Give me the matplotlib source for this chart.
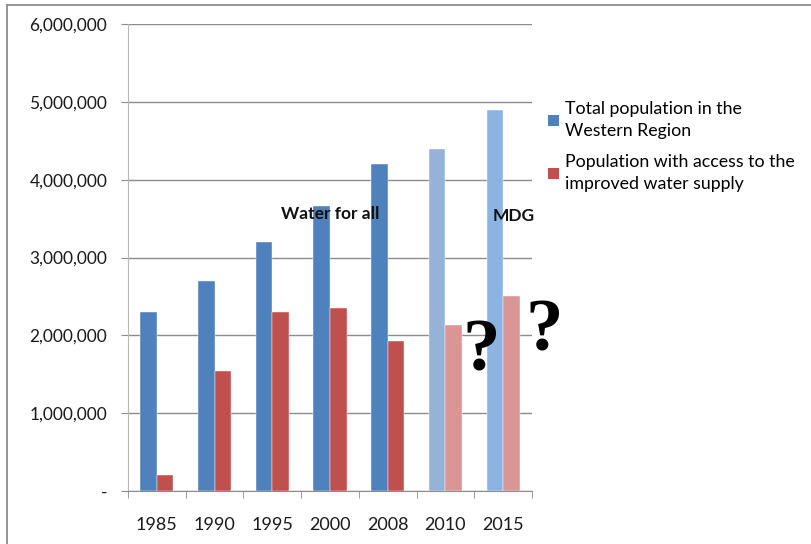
import matplotlib
matplotlib.use("Agg")
import matplotlib.pyplot as plt
from matplotlib.lines import Line2D
from matplotlib.patches import Patch
from matplotlib.ticker import FuncFormatter, FixedLocator

plt.rcParams['font.family'] = ['Lato', 'DejaVu Sans']

years = ["1985", "1990", "1995", "2000", "2008", "2010", "2015"]
total_population = [2300000, 2700000, 3200000, 3660000, 4200000, 4390000, 4900000]
water_access = [200000, 1540000, 2300000, 2350000, 1930000, 2130000, 2500000]

total_label = "Total population in the\nWestern Region"
access_label = "Population with access to the\nimproved water supply"

blue_colors = ["#4F81BD"] * 5 + ["#95B3D7", "#8DB3E2"]
red_colors = ["#C0504D"] * 5 + ["#D99694", "#D99694"]

W, H = 811, 544
fig = plt.figure(figsize=(W / 100, H / 100), dpi=100)

# outer chart frame
fig.add_artist(Line2D([7 / W, 7 / W], [0, 1 - 5 / H], color="#8c8c8c", lw=1.3))
fig.add_artist(Line2D([7 / W, 1], [1 - 5 / H, 1 - 5 / H], color="#8c8c8c", lw=1.3))

left, right, top, bottom = 128, 532, 24, 491
ax = fig.add_axes([left / W, (H - bottom) / H, (right - left) / W, (bottom - top) / H])

x = list(range(len(years)))
bw = 0.286
ax.bar([i - bw / 2 for i in x], total_population, width=bw, color=blue_colors,
       edgecolor="white", linewidth=0.3, zorder=3)
ax.bar([i + bw / 2 for i in x], water_access, width=bw, color=red_colors,
       edgecolor="white", linewidth=0.3, zorder=3)

ax.set_xlim(-0.5, len(years) - 0.5)
ax.set_ylim(0, 6000000)
ax.set_yticks(range(0, 6000001, 1000000))
ax.yaxis.set_major_formatter(FuncFormatter(lambda v, p: "-" if v == 0 else f"{int(v):,}"))
ax.yaxis.grid(True, color="#8c8c8c", lw=1, zorder=0)

ax.set_xticks(x)
ax.set_xticklabels(years)
ax.xaxis.set_minor_locator(FixedLocator([i - 0.5 for i in range(len(years) + 1)]))
ax.tick_params(axis="x", which="major", length=0, pad=19, labelsize=13, colors="#1a1a1a")
ax.tick_params(axis="x", which="minor", length=5, direction="out", color="#8c8c8c")
ax.tick_params(axis="y", length=5, direction="out", color="#8c8c8c", pad=10,
               labelsize=12.5, labelcolor="#1a1a1a")

for s in ["top", "right"]:
    ax.spines[s].set_visible(False)
ax.spines["left"].set_color("#b8b8b8")
ax.spines["bottom"].set_color("#8c8c8c")

# annotations
ax.text(3.0, 3555000, "Water for all", ha="center", va="center", fontsize=12.5,
        fontweight="bold", color="#111111", zorder=5)
ax.text(6.18, 3530000, "MDG", ha="center", va="center", fontsize=12.5,
        fontweight="bold", color="#111111", zorder=5)
ax.text(5.62, 1780000, "?", ha="center", va="center", fontsize=54,
        fontweight="bold", family="Liberation Serif", color="black", zorder=5,
        clip_on=False)
ax.text(6.71, 2030000, "?", ha="center", va="center", fontsize=54,
        fontweight="bold", family="Liberation Serif", color="black", zorder=5,
        clip_on=False)

handles = [Patch(facecolor="#4F81BD", label=total_label),
           Patch(facecolor="#C0504D", label=access_label)]
fig.legend(handles=handles, loc="upper left", bbox_to_anchor=(541 / W, 1 - 94 / H),
           frameon=False, handlelength=0.6, handleheight=0.6,
           handletextpad=0.35, labelspacing=0.85, borderaxespad=0,
           prop={"size": 12.8})

for t in fig.legends[0].get_texts():
    t.set_linespacing(1.45)

fig.savefig("out.png", dpi=100, facecolor="white")
